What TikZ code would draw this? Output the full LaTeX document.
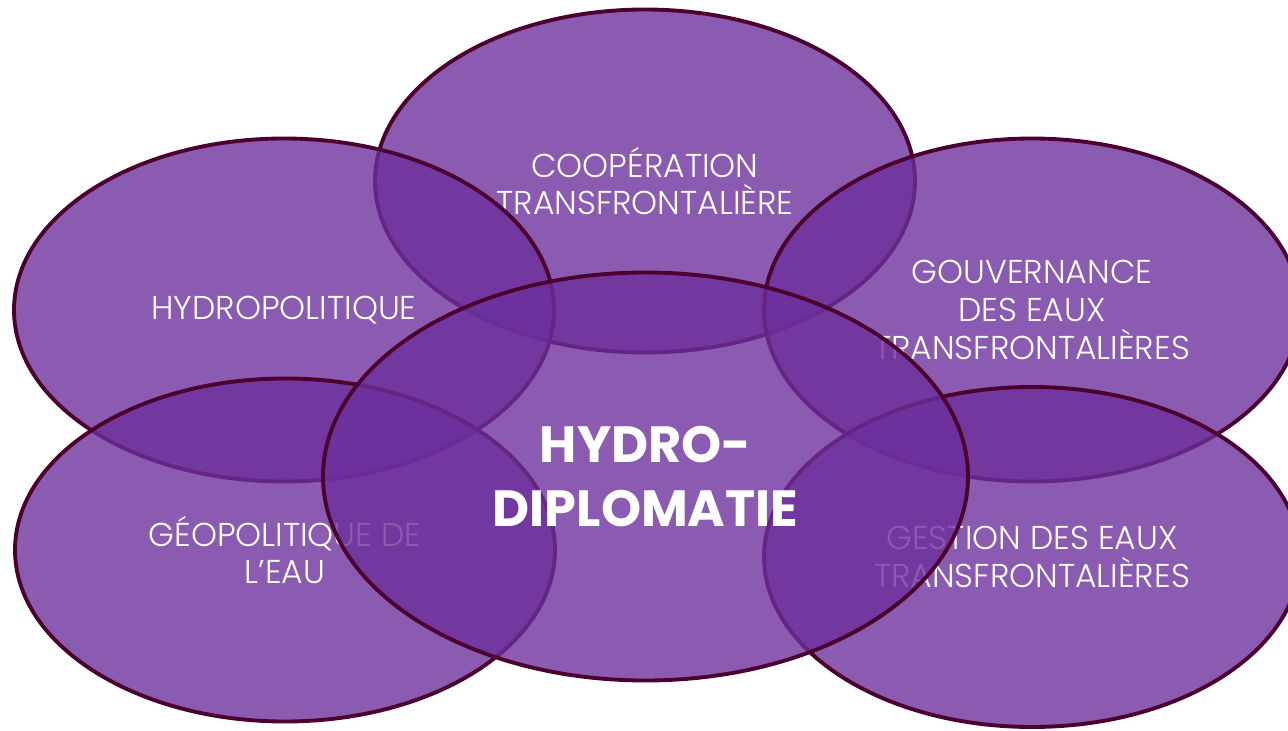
\documentclass[tikz,border=0pt]{standalone}
\usepackage{fontspec}
\setmainfont{Poppins}[UprightFont={* Light}, BoldFont={* Bold}]
\usepackage{tikz}
\usetikzlibrary{shapes.geometric}
\usetikzlibrary{positioning,calc}

\definecolor{bulleFond}{RGB}{108,47,156}
\definecolor{bulleBord}{RGB}{75,0,45}

\begin{document}
\begin{tikzpicture}[
         bulle/.style = {ellipse, draw=bulleBord, line width=2.2pt,
            fill=bulleFond, fill opacity=0.79, text opacity=1,
            text=white, align=center, inner sep=0pt,
            font=\fontsize{18.8pt}{21.5pt}\selectfont},
         petite/.style = {bulle, minimum width=10.8cm, minimum height=6.86cm},
         grande/.style = {bulle, minimum width=12.9cm, minimum height=8.16cm,
            font=\fontsize{29pt}{36pt}\selectfont\bfseries}
]
      \useasboundingbox (0,0) rectangle (25.76,14.6);

      \node[petite] (coop) at (12.90,10.98) {COOPÉRATION\\TRANSFRONTALIÈRE};
      \node[petite] (hpol) at (5.68,8.40) {HYDROPOLITIQUE};
      \node[petite, minimum width=10.72cm] (gouv) at (20.64,8.40)
            {GOUVERNANCE\\DES EAUX\\TRANSFRONTALIÈRES};
      \node[petite] (geo) at (5.70,3.60) {GÉOPOLITIQUE DE\\L’EAU};
      \node[petite, minimum width=10.72cm, minimum height=6.80cm] (gest)
            at (20.64,3.46) {GESTION DES EAUX\\TRANSFRONTALIÈRES};
      %\node[grande] (hdip) at (12.91,5.07) {HYDRO-DIPLOMATIE};
      \node[grande] (hdip) at (12.91,5.07) {HYDRO-\\DIPLOMATIE};

\end{tikzpicture}
\end{document}
